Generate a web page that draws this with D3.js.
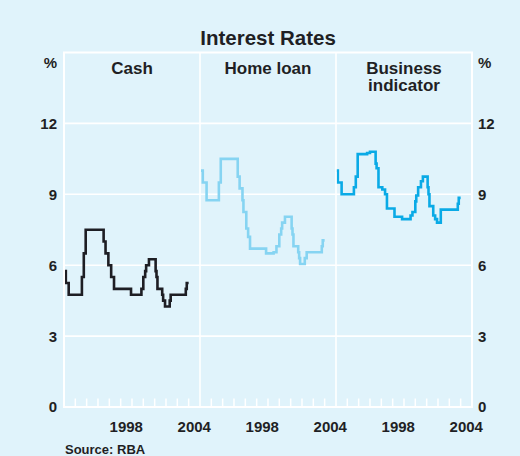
<!DOCTYPE html>
<html>
<head>
<meta charset="utf-8">
<script src="https://cdn.jsdelivr.net/npm/d3@7"></script>
<style>
  html, body { margin: 0; padding: 0; background: #e0f3fb; }
  svg { display: block; }
  text { font-family: "Liberation Sans", Arial, Helvetica, sans-serif; font-weight: bold; fill: #1f1f24; }
</style>
</head>
<body>
<svg id="chart" width="520" height="456"></svg>
<script>
// Rate changes: month of change and new level (per cent); the last entry closes the series.
const cashDates = ["1993-01","1993-03","1993-06","1994-08","1994-10","1994-12","1996-07","1996-09","1996-12",
  "1997-03","1997-06","1998-12","1999-11","2000-01","2000-03","2000-04","2000-07","2001-02","2001-03",
  "2001-04","2001-09","2001-10","2001-12","2002-05","2002-06","2003-10","2003-11","2004-01"];
const cashValues = [5.75,5.25,4.75,5.5,6.5,7.5,7.0,6.5,6.0,
  5.5,5.0,4.75,5.0,5.5,5.75,6.0,6.25,5.75,5.5,
  5.0,4.75,4.5,4.25,4.5,4.75,5.0,5.25,5.25];

const homeDates = ["1993-02","1993-04","1993-08","1994-09","1994-11","1996-05","1996-07","1996-10","1996-11",
  "1997-02","1997-04","1997-06","1998-11","1999-07","1999-10","2000-01","2000-03","2000-04","2000-07",
  "2001-02","2001-03","2001-04","2001-09","2001-10","2001-11","2002-04","2002-06","2003-10","2003-11","2004-01"];
const homeValues = [10.0,9.5,8.75,9.5,10.5,9.75,9.25,8.75,8.25,
  7.55,7.2,6.7,6.5,6.55,6.8,7.3,7.55,7.8,8.05,
  7.55,7.3,6.8,6.55,6.3,6.05,6.3,6.55,6.8,7.05,7.05];

const bizDates = ["1993-01","1993-03","1993-07","1994-08","1994-10","1994-12","1995-10","1996-01","1996-07",
  "1996-08","1996-10","1997-02","1997-05","1997-07","1998-03","1998-11","1999-08","1999-10","2000-01",
  "2000-02","2000-04","2000-07","2000-09","2001-02","2001-03","2001-04","2001-08","2001-10","2001-12",
  "2002-04","2003-10","2003-11","2004-01"];
const bizValues = [10.0,9.5,9.0,9.3,9.75,10.7,10.75,10.8,10.3,
  10.1,9.3,9.2,9.0,8.4,8.05,7.95,8.1,8.25,8.7,
  8.95,9.3,9.55,9.75,9.3,9.0,8.5,8.1,7.95,7.8,
  8.35,8.6,8.85,8.85];

const panelTitles = [["Cash"], ["Home loan"], ["Business", "indicator"]];
const lineColours = ["#1e1e24", "#86d4f2", "#0aaae6"];
const yTicks = [0, 3, 6, 9, 12];
const xTickYears = [1994,1995,1996,1997,1998,1999,2000,2001,2002,2003,2004];
const xLabelYears = [1998, 2004];

const parse = d3.timeParse("%Y-%m");
const series = [
  cashDates.map((d, i) => ({ date: parse(d), value: cashValues[i] })),
  homeDates.map((d, i) => ({ date: parse(d), value: homeValues[i] })),
  bizDates.map((d, i) => ({ date: parse(d), value: bizValues[i] }))
];

const svg = d3.select("#chart");
const plotLeft = 64, plotRight = 472, plotTop = 52.5, plotBottom = 407;
const panelW = (plotRight - plotLeft) / 3;

const y = d3.scaleLinear().domain([0, 15]).range([plotBottom, plotTop]);

// horizontal gridlines
svg.append("g").selectAll("line").data(yTicks.filter(v => v > 0)).join("line")
  .attr("x1", plotLeft).attr("x2", plotRight)
  .attr("y1", d => y(d)).attr("y2", d => y(d))
  .attr("stroke", "#ffffff").attr("stroke-width", 1.6);

// y-axis labels on both sides
const yl = svg.append("g");
yl.selectAll("text.l").data(yTicks).join("text").attr("class", "l")
  .attr("x", 57).attr("y", d => y(d)).attr("dy", "0.36em")
  .attr("text-anchor", "end").attr("font-size", 15).text(d => d);
yl.selectAll("text.r").data(yTicks).join("text").attr("class", "r")
  .attr("x", 478).attr("y", d => y(d)).attr("dy", "0.36em")
  .attr("text-anchor", "start").attr("font-size", 15).text(d => d);
yl.append("text").attr("x", 57).attr("y", 68).attr("text-anchor", "end").attr("font-size", 15).text("%");
yl.append("text").attr("x", 478).attr("y", 68).attr("text-anchor", "start").attr("font-size", 15).text("%");

const line = d3.line().curve(d3.curveStepAfter);

series.forEach((data, p) => {
  const x0 = plotLeft + p * panelW;
  const x = d3.scaleTime()
    .domain([new Date(1993, 0, 1), new Date(2005, 0, 1)])
    .range([x0, x0 + panelW]);
  const g = svg.append("g");

  // year ticks along the base
  g.selectAll("line.tick").data(xTickYears).join("line").attr("class", "tick")
    .attr("x1", d => x(new Date(d, 0, 1))).attr("x2", d => x(new Date(d, 0, 1)))
    .attr("y1", plotBottom - 8.5).attr("y2", plotBottom)
    .attr("stroke", "#ffffff").attr("stroke-width", 1.5);

  // year labels centred within each year
  g.selectAll("text.year").data(xLabelYears).join("text").attr("class", "year")
    .attr("x", d => x(new Date(d, 6, 1)))
    .attr("y", 432).attr("text-anchor", "middle").attr("font-size", 15)
    .text(d => d);

  // panel title
  const t = g.append("text").attr("text-anchor", "middle").attr("font-size", 17);
  panelTitles[p].forEach((s, i) => {
    t.append("tspan").attr("x", x0 + panelW / 2).attr("y", 74 + i * 16.5).text(s);
  });

  line.x(d => x(d.date)).y(d => y(d.value));
  g.append("path").datum(data)
    .attr("d", line)
    .attr("fill", "none")
    .attr("stroke", lineColours[p])
    .attr("stroke-width", 2.6)
    .attr("stroke-linejoin", "miter");
});

// panel dividers and frame
svg.append("g").selectAll("line").data([1, 2]).join("line")
  .attr("x1", d => plotLeft + d * panelW).attr("x2", d => plotLeft + d * panelW)
  .attr("y1", plotTop).attr("y2", plotBottom)
  .attr("stroke", "#ffffff").attr("stroke-width", 1.6);
svg.append("rect")
  .attr("x", plotLeft).attr("y", plotTop).attr("width", plotRight - plotLeft).attr("height", plotBottom - plotTop)
  .attr("fill", "none").attr("stroke", "#ffffff").attr("stroke-width", 2);

// chart title and source
svg.append("text").attr("x", (plotLeft + plotRight) / 2).attr("y", 45)
  .attr("text-anchor", "middle").attr("font-size", 20.5).text("Interest Rates");
svg.append("text").attr("x", 65).attr("y", 454)
  .attr("font-size", 13).text("Source: RBA");
</script>
</body>
</html>
